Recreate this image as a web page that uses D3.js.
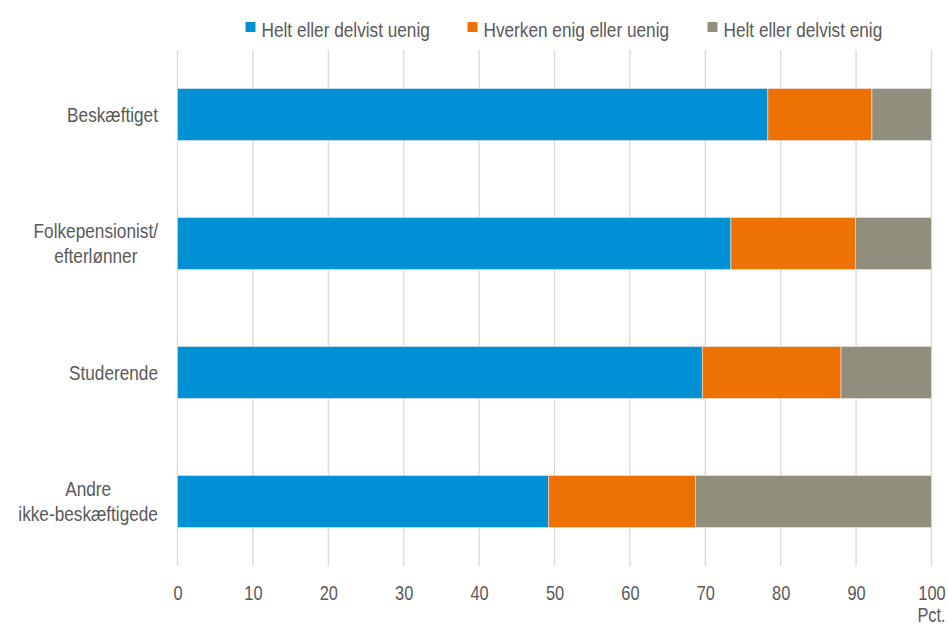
<!DOCTYPE html>
<html><head><meta charset="utf-8">
<script src="https://cdn.jsdelivr.net/npm/d3@7"></script>
<style>body{margin:0;background:#fff}svg{display:block}text{font-family:"Liberation Sans",Arial,sans-serif;fill:#595959}</style>
</head><body><svg id="c" width="948" height="629"></svg>
<script>
const categories = [["Beskæftiget"],["Folkepensionist/","efterlønner"],["Studerende"],["Andre","ikke-beskæftigede"]];
const seriesNames = ["Helt eller delvist uenig","Hverken enig eller uenig","Helt eller delvist enig"];
const colors = ["#0091d5","#ee7203","#918e7e"];
const uenig = [78.3, 73.4, 69.6, 49.2];
const hverken = [13.8, 16.5, 18.4, 19.5];
const enig = [7.9, 10.1, 12.0, 31.3];
const xTicks = [0,10,20,30,40,50,60,70,80,90,100];
const SX = 0.82; // narrow-font emulation

const svg = d3.select("#c");
const x = d3.scaleLinear().domain([0,100]).range([177.5,931.5]);
const y = d3.scaleBand().domain(d3.range(categories.length)).range([50,566]).paddingInner(0.597).paddingOuter(0.2985);

// gridlines
svg.append("g").selectAll("line").data(xTicks).join("line")
  .attr("x1",d=>x(d)).attr("x2",d=>x(d)).attr("y1",50).attr("y2",566)
  .attr("stroke","#d9d9d9").attr("stroke-width",1.3);

const data = categories.map((c,i)=>[uenig[i],hverken[i],enig[i]]);
const g = svg.append("g");
data.forEach((vals,i)=>{
  let acc=0;
  vals.forEach((v,j)=>{
    g.append("rect").attr("x",x(acc)).attr("width",x(acc+v)-x(acc))
      .attr("y",y(i)).attr("height",y.bandwidth()).attr("fill",colors[j])
      .attr("stroke","#e8e8e8").attr("stroke-width",0.6);
    acc+=v;
  });
});

// x axis labels
const xAxis = d3.axisBottom(x).tickValues(xTicks).tickSize(0).tickPadding(0);
const ax = svg.append("g").attr("transform","translate(0,600)").call(xAxis);
ax.select(".domain").remove();
ax.selectAll("text").attr("font-size",20).attr("dy",0).attr("y",0)
  .attr("transform",`scale(${SX},1)`)
  .style("font-family",'"Liberation Sans",Arial,sans-serif').attr("fill","#595959");
svg.append("text").attr("text-anchor","middle").attr("font-size",20)
  .attr("transform",`translate(${x(100)},622) scale(${SX},1)`).text("Pct.");

// category labels
categories.forEach((lines,i)=>{
  const cy = y(i)+y.bandwidth()/2;
  const t = svg.append("text").attr("font-size",21).attr("text-anchor","middle");
  const spans = lines.map((l,k)=>t.append("tspan").attr("x",0)
    .attr("y",cy+(k-(lines.length-1)/2)*25).attr("dy","0.35em").text(l));
  const w = d3.max(spans, s=>s.node().getComputedTextLength());
  t.attr("transform",`translate(${158-SX*w/2},0) scale(${SX},1)`);
});

// legend
const legX = [245.5,467.5,707.5];
seriesNames.forEach((s,j)=>{
  svg.append("rect").attr("x",legX[j]).attr("y",22).attr("width",10).attr("height",10).attr("fill",colors[j]);
  svg.append("text").attr("font-size",21)
    .attr("transform",`translate(${legX[j]+16},37) scale(${SX},1)`).text(s);
});
</script></body></html>
